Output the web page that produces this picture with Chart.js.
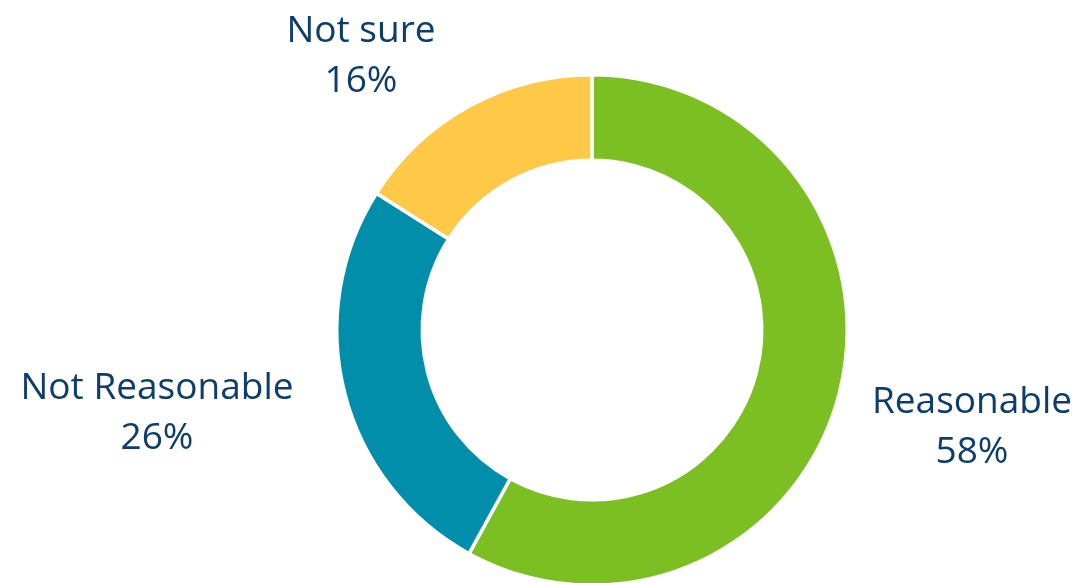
<!DOCTYPE html>
<html>
<head>
<meta charset="utf-8">
<script src="https://cdn.jsdelivr.net/npm/chart.js@4/dist/chart.umd.min.js"></script>
<style>
  html, body { margin: 0; padding: 0; background: #ffffff; }
  #frame { width: 1076px; height: 583px; overflow: hidden; position: relative; }
  #holder { width: 1076px; height: 600px; position: absolute; left: 0; top: 0; }
</style>
</head>
<body>
<div id="frame"><div id="holder"><canvas id="chart"></canvas></div></div>
<script>
const categories = ["Reasonable", "Not Reasonable", "Not sure"];
const shares = [58, 26, 16];
const sliceColors = ["#7BBF22", "#008EAB", "#FFC847"];

// Where each category's caption sits, relative to the ring's centre (x, first baseline)
const captionOffsets = [[380, 83], [-435, 69], [-231, -288]];

const captionPlugin = {
  id: "captions",
  afterDatasetsDraw(chart) {
    const ctx = chart.ctx;
    const arc = chart.getDatasetMeta(0).data[0];
    const cx = arc.x, cy = arc.y;
    ctx.save();
    ctx.fillStyle = "#0C3D6C";
    ctx.font = "37px 'Open Sans', 'Noto Sans', sans-serif";
    ctx.textAlign = "center";
    ctx.textBaseline = "alphabetic";
    categories.forEach((name, i) => {
      const [dx, dy] = captionOffsets[i];
      ctx.fillText(name, cx + dx, cy + dy);
      ctx.fillText(shares[i] + "%", cx + dx, cy + dy + 50);
    });
    ctx.restore();
  }
};

new Chart(document.getElementById("chart"), {
  type: "doughnut",
  data: {
    labels: categories,
    datasets: [{
      data: shares,
      backgroundColor: sliceColors,
      borderColor: "#ffffff",
      borderWidth: 3.5,
      hoverOffset: 0
    }]
  },
  options: {
    responsive: true,
    maintainAspectRatio: false,
    animation: false,
    cutout: "66.5%",
    layout: { padding: { top: 73, bottom: 13, left: 335, right: 227 } },
    plugins: {
      legend: { display: false },
      tooltip: { enabled: false }
    }
  },
  plugins: [captionPlugin]
});
</script>
</body>
</html>
